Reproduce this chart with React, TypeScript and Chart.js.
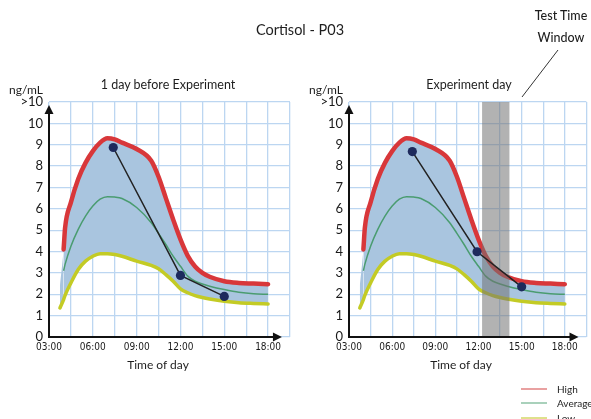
import React, { useEffect, useRef } from 'react';
import { Chart, registerables } from 'chart.js';

Chart.register(...registerables);

// ---- data ----
const curveHours = [3.75, 4.0, 4.1, 4.5, 5.0, 5.5, 6.0, 6.5, 7.0, 7.5, 8.0, 9.0, 10.0, 10.5, 11.0, 11.5, 12.0, 12.5, 13.0, 13.5, 14.0, 15.0, 16.0, 17.0, 18.0];
const highValues = [2.4, 4.1, 5.1, 6.3, 7.4, 8.15, 8.7, 9.1, 9.3, 9.25, 9.1, 8.8, 8.25, 7.5, 6.5, 5.5, 4.57, 3.8, 3.3, 3.0, 2.82, 2.61, 2.53, 2.5, 2.47];
const averageValues = [null, 3.1, 3.4, 4.25, 5.04, 5.66, 6.13, 6.45, 6.57, 6.55, 6.48, 6.06, 5.35, 4.85, 4.33, 3.78, 3.31, 2.85, 2.61, 2.48, 2.38, 2.22, 2.09, 2.02, 2.0];
const lowValues = [1.36, 1.75, 1.95, 2.53, 3.16, 3.55, 3.78, 3.9, 3.9, 3.86, 3.78, 3.55, 3.35, 3.19, 2.92, 2.61, 2.25, 2.07, 1.94, 1.85, 1.78, 1.67, 1.6, 1.57, 1.55];

const beforeHours = [7.4, 12.0, 15.0];
const beforeValues = [8.87, 2.88, 1.9];
const experimentHours = [7.4, 11.9, 15.0];
const experimentValues = [8.68, 3.99, 2.35];
const testWindow = [12.25, 14.15];

const yTickLabels: Record<number, string> = { 0: '0', 1: '1', 2: '2', 3: '3', 4: '4', 5: '5', 6: '6', 7: '7', 8: '8', 9: '9', 10: '10', 11: '>10' };
const xTickLabels: Record<number, string> = { 3: '03:00', 6: '06:00', 9: '09:00', 12: '12:00', 15: '15:00', 18: '18:00' };

// ---- styles ----
const RED = '#d8373a';
const GREEN = '#4a9c70';
const YELLOW = '#c3cb25';
const FILL = '#a9c5df';
const GRID = '#bcd6f1';

function pts(xs: number[], ys: (number | null)[]) {
  return xs.map((x, i) => ({ x, y: ys[i] }));
}

const axisArrows = {
  id: 'axisArrows',
  afterDatasetsDraw(chart: any) {
    const { ctx, chartArea, scales } = chart;
    const x0 = scales.x.getPixelForValue(3);
    const y0 = scales.y.getPixelForValue(0);
    const yTip = chartArea.top + 3;
    const xTip = scales.x.getPixelForValue(18.95);
    ctx.save();
    ctx.strokeStyle = '#111';
    ctx.fillStyle = '#111';
    ctx.lineWidth = 2;
    ctx.beginPath();
    ctx.moveTo(x0, y0 + 1);
    ctx.lineTo(x0, yTip + 6);
    ctx.stroke();
    ctx.beginPath();
    ctx.moveTo(x0 - 1, y0);
    ctx.lineTo(xTip - 6, y0);
    ctx.stroke();
    ctx.beginPath();
    ctx.moveTo(x0, yTip);
    ctx.lineTo(x0 - 4.5, yTip + 9);
    ctx.lineTo(x0 + 4.5, yTip + 9);
    ctx.closePath();
    ctx.fill();
    ctx.beginPath();
    ctx.moveTo(xTip, y0);
    ctx.lineTo(xTip - 9, y0 - 4.5);
    ctx.lineTo(xTip - 9, y0 + 4.5);
    ctx.closePath();
    ctx.fill();
    ctx.restore();
  },
};

function makeBand(range: number[] | null) {
  return {
    id: 'band',
    afterDatasetDraw(chart: any, args: any) {
      if (!range || args.index !== 1) return;
      const { ctx, chartArea, scales } = chart;
      const x1 = scales.x.getPixelForValue(range[0]);
      const x2 = scales.x.getPixelForValue(range[1]);
      ctx.save();
      ctx.fillStyle = 'rgba(115,115,115,0.55)';
      ctx.fillRect(x1, chartArea.top, x2 - x1, chartArea.bottom - chartArea.top);
      ctx.restore();
    },
  };
}

function CortisolChart(props: { hours: number[]; values: number[]; yWidth: number; padRight: number; band: number[] | null; width: number; height: number }) {
  const ref = useRef<HTMLCanvasElement>(null);
  useEffect(() => {
    const canvas = ref.current;
    if (!canvas) return;
    const chart = new Chart(canvas, {
      type: 'line',
      data: {
        datasets: [
          {
            label: 'Patient',
            data: pts(props.hours, props.values),
            borderColor: '#222',
            borderWidth: 1.5,
            pointRadius: 4.6,
            pointBackgroundColor: '#1d2a5c',
            pointBorderColor: '#1d2a5c',
            pointBorderWidth: 0,
            fill: false,
            tension: 0,
          },
          {
            label: 'High',
            data: pts(curveHours, highValues),
            borderColor: RED,
            borderWidth: 4.5,
            borderCapStyle: 'round',
            pointRadius: 0,
            fill: { target: 3 },
            backgroundColor: FILL,
            cubicInterpolationMode: 'monotone',
            segment: {
              borderColor: (c: any) => (c.p0DataIndex === 0 ? 'rgba(0,0,0,0)' : RED),
            },
          },
          {
            label: 'Average',
            data: pts(curveHours, averageValues),
            borderColor: GREEN,
            borderWidth: 1.5,
            pointRadius: 0,
            fill: false,
            cubicInterpolationMode: 'monotone',
          },
          {
            label: 'Low',
            data: pts(curveHours, lowValues),
            borderColor: YELLOW,
            borderWidth: 3.5,
            borderCapStyle: 'round',
            pointRadius: 0,
            fill: false,
            cubicInterpolationMode: 'monotone',
          },
        ],
      },
      options: {
        animation: false,
        responsive: false,
        devicePixelRatio: 1,
        layout: { padding: { top: 102, left: 0, right: props.padRight, bottom: 0 } },
        plugins: {
          legend: { display: false },
          title: { display: false },
          tooltip: { enabled: false },
          filler: { drawTime: 'beforeDatasetsDraw' },
        },
        scales: {
          x: {
            type: 'linear',
            min: 3,
            max: 19.5,
            grid: { color: GRID, lineWidth: 1.3, drawTicks: false },
            border: { display: false },
            ticks: {
              stepSize: 1.5,
              autoSkip: false,
              maxRotation: 0,
              padding: 4,
              color: '#1a1a1a',
              font: { family: "'Liberation Sans Narrow', 'DejaVu Sans Condensed', sans-serif", size: 10 },
              callback: (v: any) => xTickLabels[v as number] ?? '',
            },
            afterFit: (s: any) => {
              s.height = 23;
            },
          },
          y: {
            min: 0,
            max: 11,
            grid: { color: GRID, lineWidth: 1.3, drawTicks: false },
            border: { display: false },
            ticks: {
              stepSize: 1,
              padding: 6,
              color: '#1a1a1a',
              font: { family: 'Lato', size: 13 },
              callback: (v: any) => yTickLabels[v as number] ?? '',
            },
            afterFit: (s: any) => {
              s.width = props.yWidth;
            },
          },
        },
      } as any,
      plugins: [makeBand(props.band), axisArrows],
    });
    return () => chart.destroy();
  }, []);
  return <canvas ref={ref} width={props.width} height={props.height} style={{ width: props.width, height: props.height, display: 'block' }} />;
}

const txt = (x: number, y: number, size: number, extra: any = {}): React.CSSProperties => ({
  position: 'absolute',
  left: x,
  top: y,
  transform: 'translate(-50%, -50%)',
  fontFamily: 'Lato, sans-serif',
  fontSize: size,
  color: '#1e1e1e',
  whiteSpace: 'nowrap',
  lineHeight: 1,
  ...extra,
});

export default function App() {
  return (
    <div style={{ position: 'fixed', left: 0, top: 0, width: 591, height: 419, background: '#fff', overflow: 'hidden' }}>
      <div style={{ position: 'absolute', left: 0, top: 0 }}>
        <CortisolChart hours={beforeHours} values={beforeValues} yWidth={49} padRight={5} band={null} width={295} height={360} />
      </div>
      <div style={{ position: 'absolute', left: 296, top: 0 }}>
        <CortisolChart hours={experimentHours} values={experimentValues} yWidth={53} padRight={1} band={testWindow} width={295} height={360} />
      </div>
      <div style={txt(300, 30, 14.5)}>Cortisol - P03</div>
      <div style={txt(168, 85, 12.5)}>1 day before Experiment</div>
      <div style={txt(469, 85, 12.5)}>Experiment day</div>
      <div style={txt(26, 90, 12)}>ng/mL</div>
      <div style={txt(326, 90, 12)}>ng/mL</div>
      <div style={txt(561, 16, 12.5, { fontWeight: 500 })}>Test Time</div>
      <div style={txt(561, 38, 12.5, { fontWeight: 500 })}>Window</div>
      <svg width={591} height={419} style={{ position: 'absolute', left: 0, top: 0, pointerEvents: 'none' }}>
        <line x1={522} y1={97} x2={558} y2={50} stroke="#333" strokeWidth={1} />
        <line x1={521} y1={389} x2={547} y2={389} stroke="#e9a1a1" strokeWidth={2} />
        <line x1={521} y1={403} x2={547} y2={403} stroke="#a9d1bb" strokeWidth={2} />
        <line x1={521} y1={418} x2={547} y2={418} stroke="#dfe18c" strokeWidth={2} />
      </svg>
      <div style={txt(158, 365, 12)}>Time of day</div>
      <div style={txt(461, 365, 12)}>Time of day</div>
      <div style={txt(557, 389, 10, { transform: 'translate(0, -50%)' })}>High</div>
      <div style={txt(557, 403, 10, { transform: 'translate(0, -50%)' })}>Average</div>
      <div style={txt(557, 418, 10, { transform: 'translate(0, -50%)' })}>Low</div>
    </div>
  );
}
